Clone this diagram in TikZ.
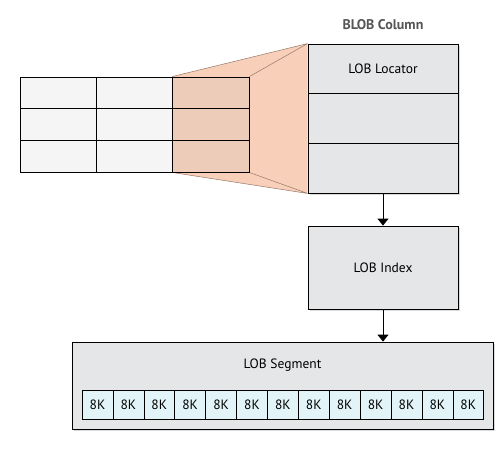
\documentclass[tikz,border=0pt]{standalone}
\usepackage{fontspec}
\setmainfont{PT Sans}
\usetikzlibrary{arrows.meta,shadows,backgrounds}
\definecolor{peach}{RGB}{248,208,186}
\definecolor{peachcell}{RGB}{238,204,186}
\definecolor{fanline}{RGB}{150,120,105}
\definecolor{boxgray}{RGB}{229,230,232}
\definecolor{cellblue}{RGB}{226,244,248}
\definecolor{titlegray}{RGB}{85,85,85}
\tikzset{
  box/.style={draw,line width=0.8pt,fill=boxgray,inner sep=0pt,
    drop shadow={opacity=0.3,shadow xshift=2pt,shadow yshift=-2pt}},
  tcell/.style={draw,line width=0.8pt,fill=black!4,minimum width=76.3pt,minimum height=31.7pt,inner sep=0pt},
  kcell/.style={draw,line width=0.6pt,fill=cellblue,minimum width=30.9pt,minimum height=29pt,inner sep=0pt},
  flow/.style={-{Triangle[length=7pt,width=11pt]},line width=0.8pt}
}
\begin{document}
\begin{tikzpicture}[x=1pt,y=-1pt,font=\fontsize{13.5}{16}\selectfont]
\useasboundingbox (0,0) rectangle (504,455);
% table
\node[tcell] (t11) at (58.2,92.8) {};
\node[tcell] (t12) at (134.5,92.8) {};
\node[tcell,fill=peachcell] (t13) at (210.8,92.8) {};
\node[tcell] (t21) at (58.2,124.5) {};
\node[tcell] (t22) at (134.5,124.5) {};
\node[tcell,fill=peachcell] (t23) at (210.8,124.5) {};
\node[tcell] (t31) at (58.2,156.2) {};
\node[tcell] (t32) at (134.5,156.2) {};
\node[tcell,fill=peachcell] (t33) at (210.8,156.2) {};

% blob column
\node[font=\fontsize{14}{16}\selectfont\bfseries,text=titlegray] (title) at (383,25) {BLOB Column};
\node[box,minimum width=150pt,minimum height=49.7pt] (loc) at (383,68.8) {LOB Locator};
\node[box,minimum width=150pt,minimum height=49.7pt] (col2) at (383,118.5) {};
\node[box,minimum width=150pt,minimum height=49.7pt] (col3) at (383,168.2) {};

% index and segment
\node[box,minimum width=150pt,minimum height=83pt] (idx) at (383,267.5) {LOB Index};
\node[box,minimum width=421pt,minimum height=87pt] (seg) at (282.5,385.5) {};
\node (seglabel) at (282.5,365) {LOB Segment};
\foreach \i in {1,...,13}
  \node[kcell] (k\i) at ({82+30.9*(\i-0.5)},404.5) {8K};

% fan
\begin{scope}[on background layer]
\fill[peach] (t13.north west) -- (loc.north west) -- (col3.south west) -- (t33.south west) -- cycle;
\draw[fanline,line width=0.5pt]
  (t13.north west) -- (loc.north west)
  (t13.north east) -- (loc.north west)
  (t33.south west) -- (col3.south west)
  (t33.south east) -- (col3.south west);
\end{scope}

\path[flow]
(col3) edge (idx)
(idx) edge (seg.north -| idx);
\end{tikzpicture}
\end{document}
